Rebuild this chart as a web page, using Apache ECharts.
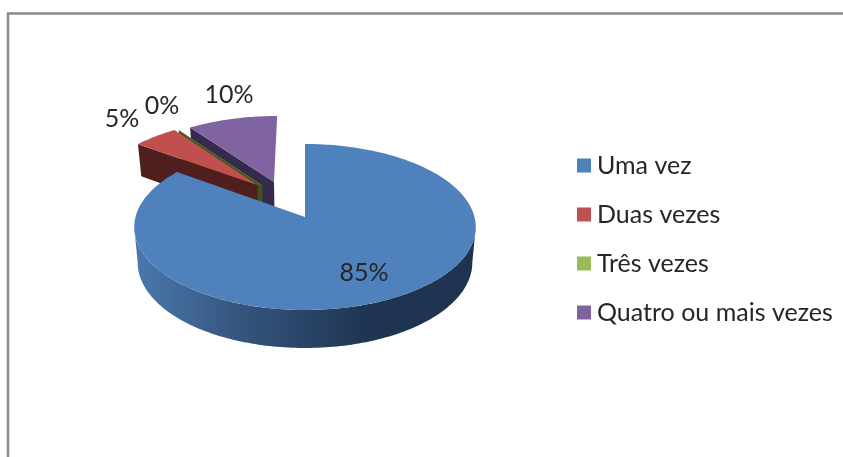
<!DOCTYPE html>
<html>
<head>
<meta charset="utf-8">
<style>html,body{margin:0;padding:0;background:#fff}#chart{width:843px;height:457px}</style>
<script src="https://cdn.jsdelivr.net/npm/echarts@6/dist/echarts.min.js"></script>
</head>
<body>
<div id="chart"></div>
<script>
const categories = ['Uma vez', 'Duas vezes', 'Três vezes', 'Quatro ou mais vezes'];
const percents = [85, 5, 0, 10];

// look of each slice, same order as categories
const topColors = ['#4F81BD', '#C0504D', '#9BBB59', '#8064A2'];
const wallColors = ['#1F3350', '#4F1F1D', '#3E5220', '#352A4B'];
const explodeX = [0, -0.295, -0.265, -0.193];
const explodeZ = [0, 0.41, 0.4, 0.451];
const paintOrder = [4, 3, 2, 1];
const labelAt = [[364, 273], [122, 119], [162, 106], [229, 95]];

// perspective of the tilted disc
const cx = 305, cy = 217, radiusX = 169.5, radiusY = 81.8, tilt = 0.1205;

function project(X, Z, low) {
    const w = 1 + tilt * Z;
    const x = radiusX * X / w;
    const y = -radiusY * Z / w;
    if (!low) return [cx + x, cy + y];
    return [cx + x * 0.98, cy + y + 35 - 3 * Z];
}

function renderSlice(i) {
    return function (params, api) {
        const total = percents.reduce((a, b) => a + b, 0);
        const before = percents.slice(0, i).reduce((a, b) => a + b, 0);
        const start = before / total * Math.PI * 2;
        const end = (before + api.value(0)) / total * Math.PI * 2;
        const ex = explodeX[i], ez = explodeZ[i];
        const at = (t, low) => project(ex + Math.sin(t), ez + Math.cos(t), low);
        const arc = (a, b, low) => {
            const pts = [];
            const n = Math.max(1, Math.ceil(Math.abs(b - a) / 0.02));
            for (let k = 0; k <= n; k++) pts.push(at(a + (b - a) * k / n, low));
            return pts;
        };
        const apex = project(ex, ez, false);
        const children = [];
        if (i === 0) {
            // round front wall of the big slice, from tangent to tangent
            const a = Math.PI * 0.539, b = Math.PI * 1.461;
            children.push({
                type: 'polygon',
                shape: {points: arc(a, b, false).concat(arc(b, a, true))},
                style: {fill: new echarts.graphic.LinearGradient(1, 0, 0, 0, [
                    {offset: 0, color: wallColors[0]},
                    {offset: 0.32, color: '#1F3552'},
                    {offset: 0.7, color: '#36567F'},
                    {offset: 1, color: '#4A79AE'}
                ])}
            });
        } else {
            // cut face of an exploded slice
            children.push({
                type: 'polygon',
                shape: {points: [apex, at(start, false), at(start, true), project(ex, ez, true)]},
                style: {fill: wallColors[i]}
            });
        }
        children.push({
            type: 'polygon',
            shape: {points: [apex].concat(arc(start, end, false))},
            style: end > start
                ? {fill: topColors[i]}
                : {fill: 'none', stroke: '#56702F', lineWidth: 1}
        });
        children.push({
            type: 'text',
            z2: 10,
            style: {
                x: labelAt[i][0], y: labelAt[i][1],
                text: api.value(0) + '%',
                align: 'center', verticalAlign: 'middle',
                font: '25px Lato', fill: '#262626'
            }
        });
        return {type: 'group', children: children};
    };
}

const myChart = echarts.init(document.getElementById('chart'));
myChart.setOption({
    animation: false,
    backgroundColor: '#fff',
    graphic: [{
        type: 'rect',
        silent: true,
        shape: {x: 8, y: 13.5, width: 1000, height: 700},
        style: {fill: 'none', stroke: '#8A8A8A', lineWidth: 2.5}
    }],
    legend: {
        orient: 'vertical',
        left: 572, top: 148,
        icon: 'rect',
        itemWidth: 14, itemHeight: 14, itemGap: 24,
        selectedMode: false,
        data: categories,
        textStyle: {fontFamily: 'Lato', fontSize: 25, color: '#262626', padding: [0, 0, 0, 1]}
    },
    series: categories.map((name, i) => ({
        type: 'custom',
        name: name,
        coordinateSystem: 'none',
        z: paintOrder[i],
        silent: true,
        itemStyle: {color: topColors[i]},
        renderItem: renderSlice(i),
        data: [percents[i]]
    }))
});
</script>
</body>
</html>
